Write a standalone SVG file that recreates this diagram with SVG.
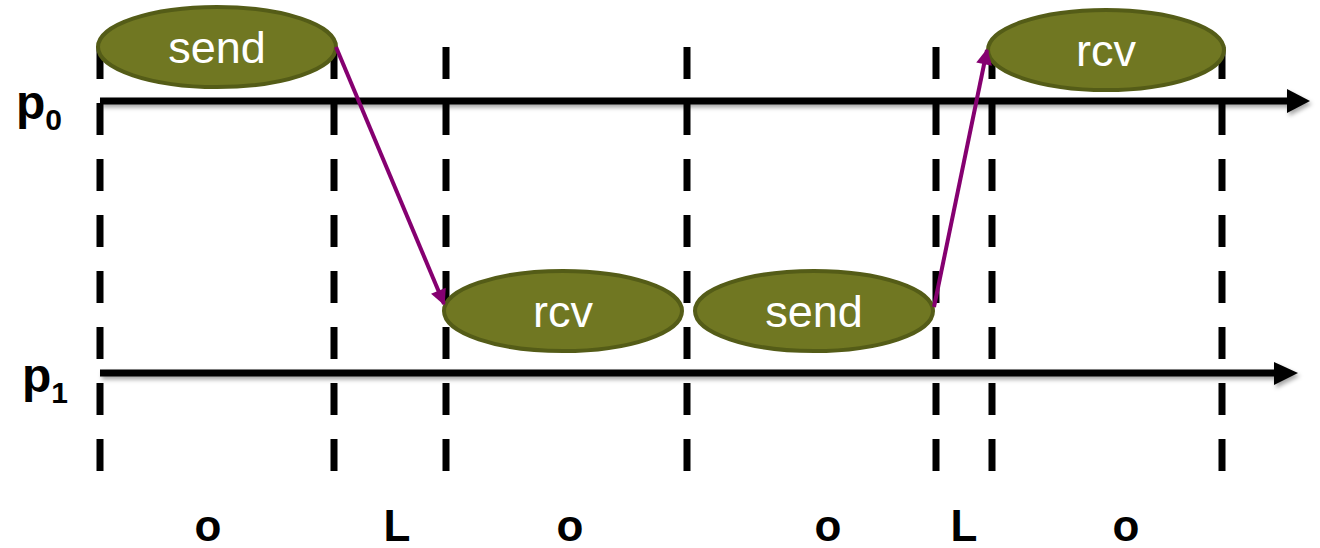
<svg xmlns="http://www.w3.org/2000/svg" width="1320" height="548" viewBox="0 0 1320 548">
<style>
.dash{stroke:#000;stroke-width:7;stroke-dasharray:32 24;fill:none}
.axis{stroke:#000;stroke-width:7;fill:none}
.ell{fill:#707722;stroke:#545c17;stroke-width:4}
.etxt{font-family:"Liberation Sans",Arial,sans-serif;font-size:45px;fill:#fff;text-anchor:middle}
.lbl{font-family:"Liberation Sans",Arial,sans-serif;font-size:44px;font-weight:bold;fill:#000;text-anchor:middle}
.plbl{font-family:"Liberation Sans",Arial,sans-serif;font-size:48px;font-weight:bold;fill:#000}
.sub{font-size:30px}
.msg{stroke:#850070;stroke-width:4;fill:none;marker-end:url(#ah)}
</style>
<defs>
<marker id="ah" viewBox="0 0 10 10" refX="9" refY="5" markerWidth="4.5" markerHeight="4" orient="auto" markerUnits="strokeWidth">
<path d="M0,0 L10,5 L0,10 z" fill="#850070"/>
</marker>
<filter id="sh" x="-5%" y="-50%" width="110%" height="200%">
<feDropShadow dx="2" dy="3" stdDeviation="2" flood-color="#000" flood-opacity="0.35"/>
</filter>
</defs>
<g id="grid">
<line class="dash" x1="100" y1="47" x2="100" y2="472"/>
<line class="dash" x1="334" y1="47" x2="334" y2="472"/>
<line class="dash" x1="446" y1="47" x2="446" y2="472"/>
<line class="dash" x1="687" y1="47" x2="687" y2="472"/>
<line class="dash" x1="936" y1="47" x2="936" y2="472"/>
<line class="dash" x1="992" y1="47" x2="992" y2="472"/>
<line class="dash" x1="1222" y1="47" x2="1222" y2="472"/>
</g>
<g id="p0" filter="url(#sh)">
<line class="axis" x1="100" y1="101" x2="1290" y2="101"/>
<path d="M1287,89 L1310,101 L1287,113 z" fill="#000"/>
</g>
<g id="p1" filter="url(#sh)">
<line class="axis" x1="100" y1="373" x2="1277" y2="373"/>
<path d="M1274,362 L1298,373 L1274,385 z" fill="#000"/>
</g>
<g id="labels">
<text class="plbl" x="16" y="119">p<tspan class="sub" dy="11">0</tspan></text>
<text class="plbl" x="22" y="392">p<tspan class="sub" dy="11">1</tspan></text>
<text class="lbl" x="208" y="541">o</text>
<text class="lbl" x="397" y="541">L</text>
<text class="lbl" x="570" y="541">o</text>
<text class="lbl" x="828" y="541">o</text>
<text class="lbl" x="964" y="541">L</text>
<text class="lbl" x="1126" y="541">o</text>
</g>
<g id="send0">
<ellipse class="ell" cx="217" cy="47" rx="119" ry="40"/>
<text class="etxt" x="217" y="63">send</text>
</g>
<g id="rcv0">
<ellipse class="ell" cx="1106" cy="50" rx="118" ry="40"/>
<text class="etxt" x="1106" y="66">rcv</text>
</g>
<g id="rcv1">
<ellipse class="ell" cx="563" cy="311" rx="119" ry="40"/>
<text class="etxt" x="563" y="327">rcv</text>
</g>
<g id="send1">
<ellipse class="ell" cx="814" cy="311" rx="119" ry="40"/>
<text class="etxt" x="814" y="327">send</text>
</g>
<g id="connectors">
<line class="msg" x1="336" y1="47" x2="444" y2="304"/>
<line class="msg" x1="934" y1="307" x2="987" y2="50"/>
</g>
</svg>
